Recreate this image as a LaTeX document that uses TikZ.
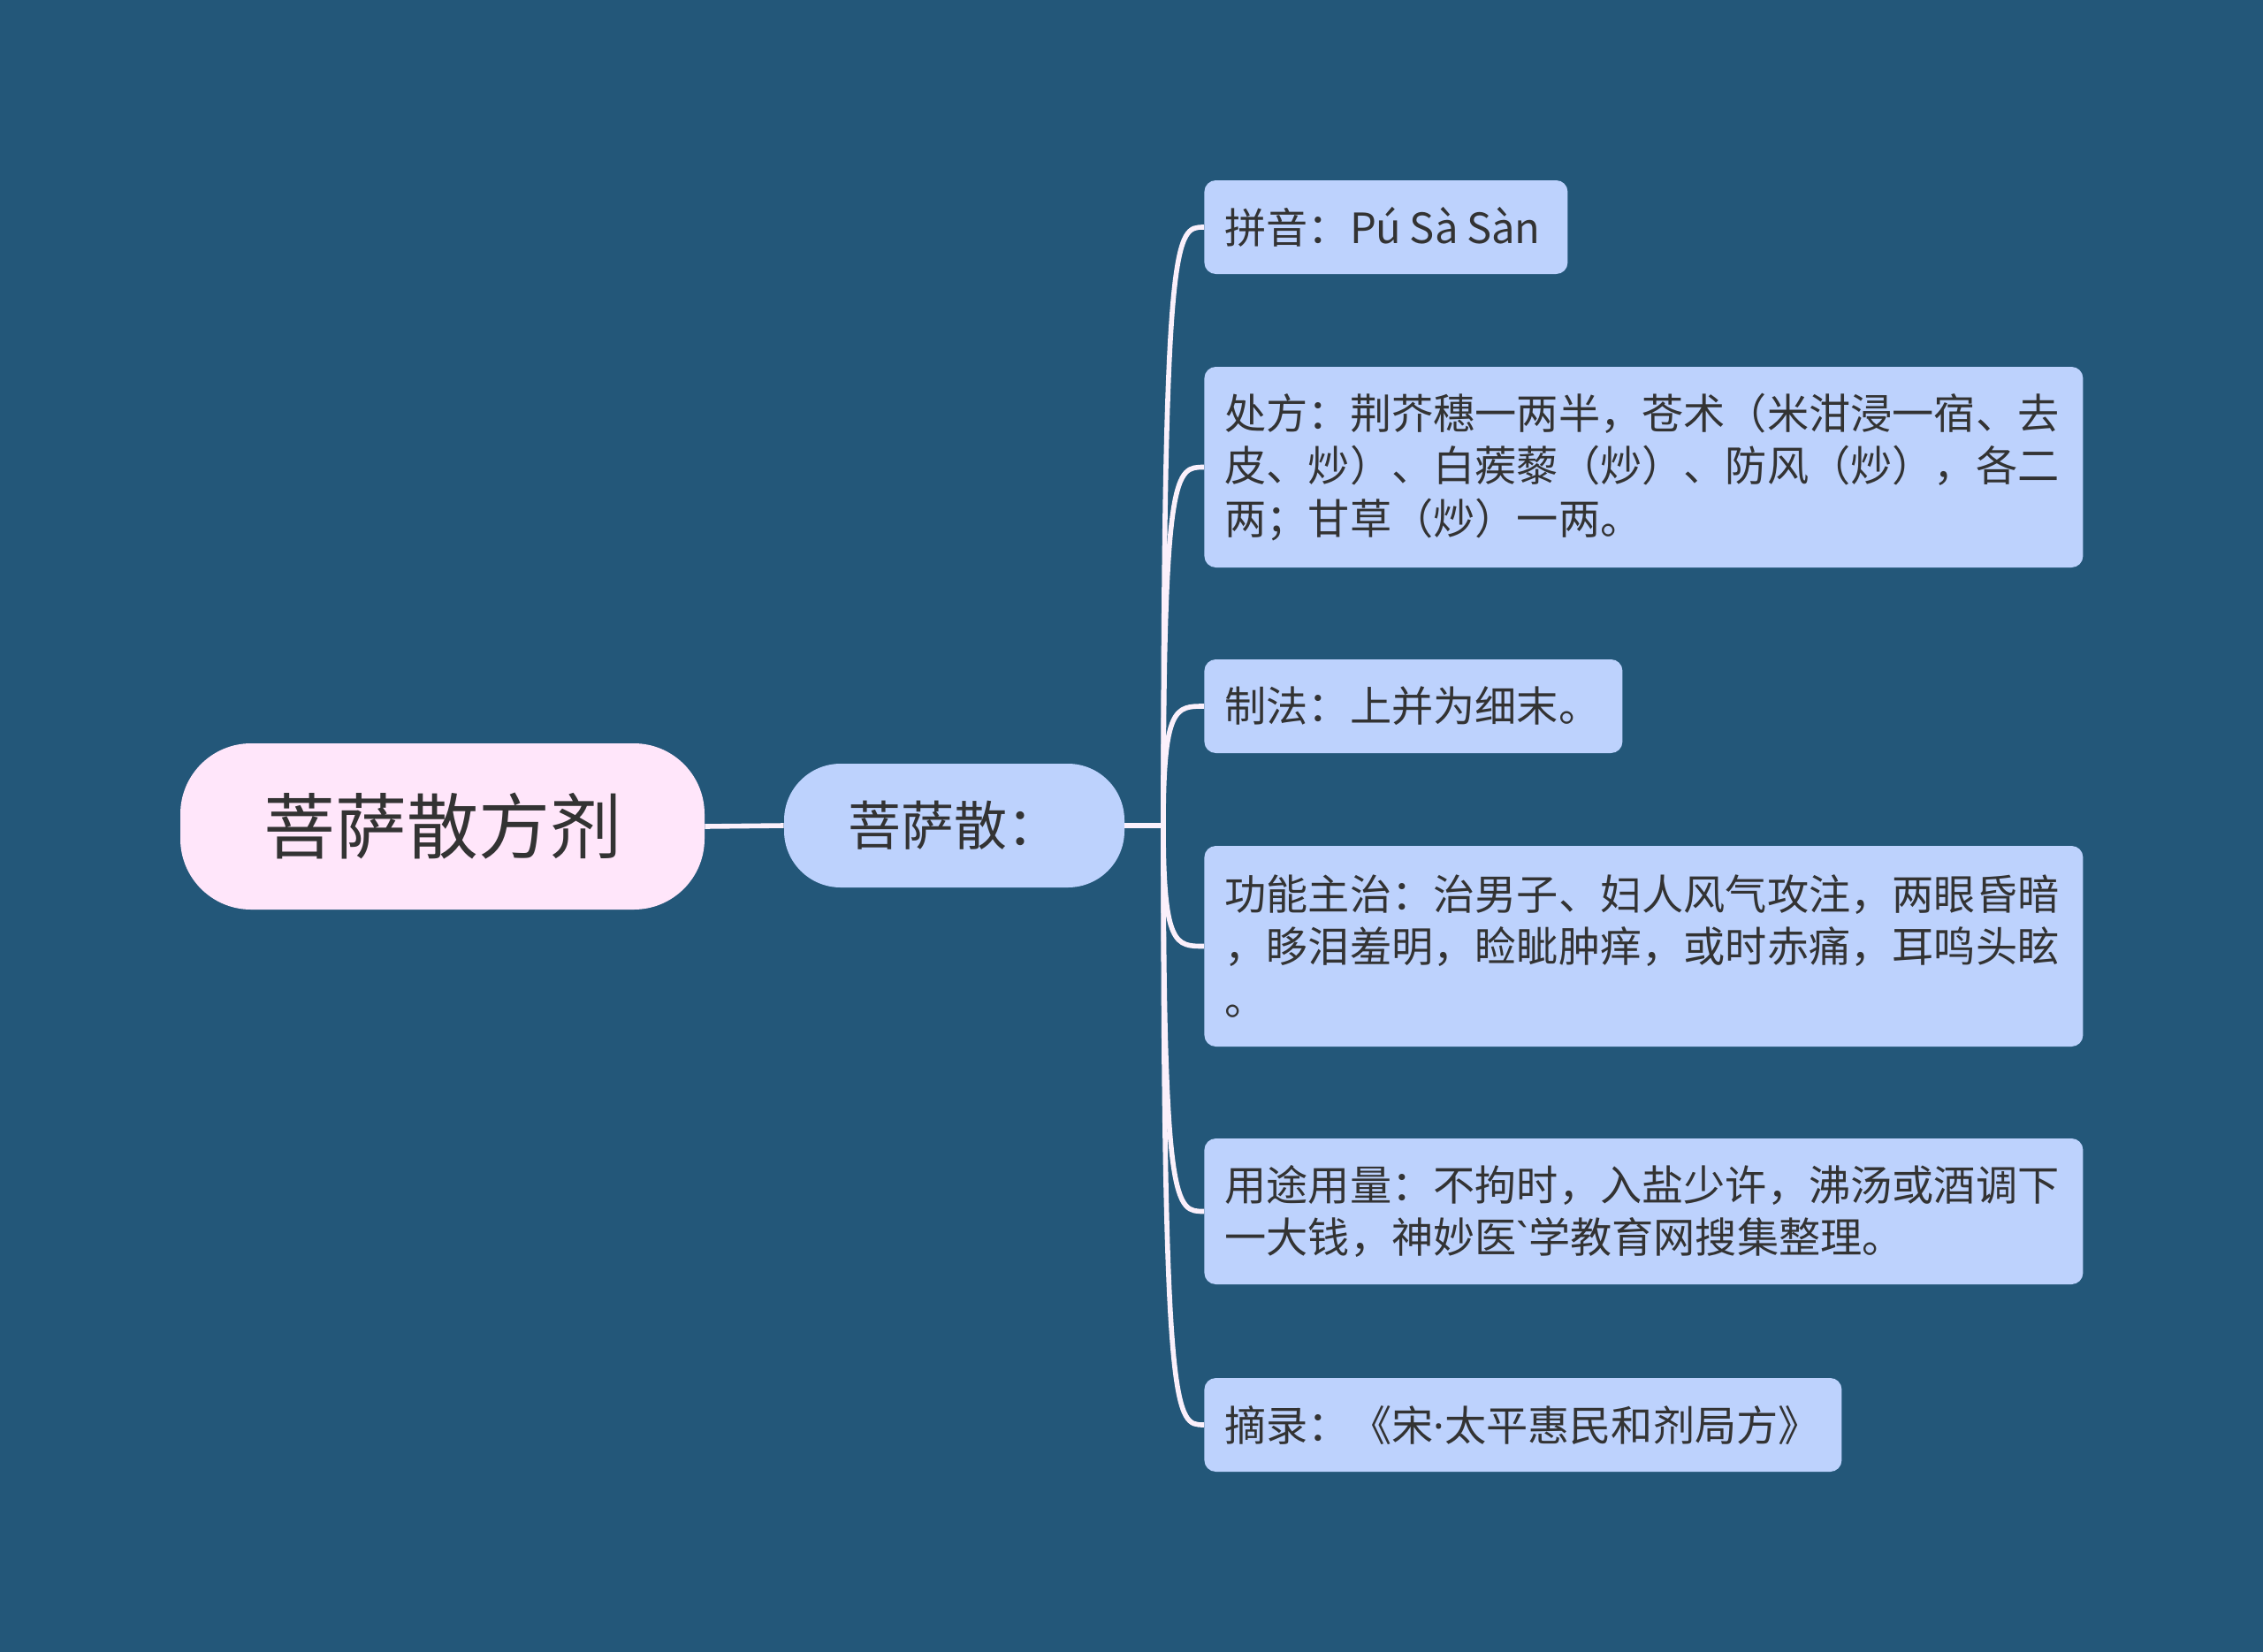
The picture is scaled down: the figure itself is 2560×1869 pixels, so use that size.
\documentclass[tikz,border=0pt]{standalone}
\usepackage{fontspec}
\setmainfont{Noto Sans CJK SC}
\newfontfamily\latinfont{Noto Sans}
\definecolor{bgblue}{HTML}{235779}
\definecolor{childblue}{HTML}{BDD2FD}
\definecolor{rootpink}{HTML}{FFE6FA}
\definecolor{linec}{HTML}{FBF0FB}
\definecolor{txt}{HTML}{333333}
\begin{document}
\begin{tikzpicture}[x=0.5pt,y=-0.5pt,
  rootbox/.style={fill=rootpink, rounded corners=40pt, inner sep=0pt, text=txt,
    minimum width=296.5pt, minimum height=94pt, font=\fontsize{40.5}{48}\selectfont},
  midbox/.style={fill=childblue, rounded corners=32pt, inner sep=0pt, text=txt,
    minimum width=192.5pt, minimum height=70pt, font=\fontsize{30}{36}\selectfont},
  childbox/.style={fill=childblue, rounded corners=6.5pt, inner xsep=11.5pt, inner ysep=0pt,
    align=left, anchor=west, text=txt, font=\fontsize{23.6}{29.8}\selectfont},
  conn/.style={draw=linec, line width=2.8pt}
]
\fill[bgblue] (0,0) rectangle (2560,1869);
\useasboundingbox (0,0) rectangle (2560,1869);

\node[rootbox] (root) at (500.5,935) {菩萨散方剂};
\node[midbox] (mid) at (1079.5,934) {菩萨散：};
\coordinate (jn) at (1316,934);

\node[childbox, minimum height=53pt, text width=182.5pt] (c1) at (1362,257)
  {拼音：Pú\hspace{0.2em}Sà\hspace{0.2em}Sàn};
\node[childbox, minimum height=113.5pt, text width=474pt] (c2) at (1362,528.5)
  {处方：荆芥穗一两半，苍术（米泔浸一宿、去\\皮、炒）、白蒺藜（炒）、防风（炒），各二\\两；甘草（炒）一两。};
\node[childbox, minimum height=53pt, text width=213.5pt] (c3) at (1362,799)
  {制法：上并为细末。};
\node[childbox, minimum height=113.5pt, text width=474pt] (c4) at (1362,1070.5)
  {功能主治：治男子、妇人风气攻注，两眼昏暗\\，眵泪羞明，睑眦肿痒，或时赤痛，耳鸣头眩\\。};
\node[childbox, minimum height=82.5pt, text width=474pt] (c5) at (1362,1370.5)
  {用途用量：不拘时，入盐少许，沸汤或酒调下\\一大钱，神妙医{\latinfont\symbol{"60}}学教育网搜集整理。};
\node[childbox, minimum height=53pt, text width=337.5pt] (c6) at (1362,1612)
  {摘录：《宋{\latinfont\symbol{"B7}}太平惠民和剂局方》};

\draw[conn] (root.east) -- (mid.west);
\draw[conn] (mid.east) -- (jn);
\foreach \c/\y in {c1/257, c2/528.5, c3/799, c4/1070.5, c5/1370.5, c6/1612}{
  \draw[conn] (jn) .. controls (1316,\y) and (1330,\y) .. (\c.west);
}
\end{tikzpicture}
\end{document}
